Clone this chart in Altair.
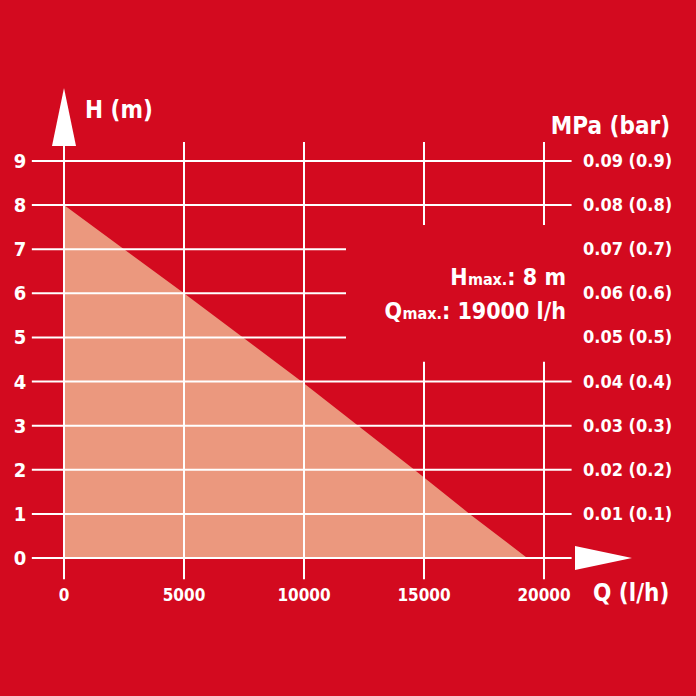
import altair as alt
import pandas as pd

# ---- data ----
q_ticks = [0, 5000, 10000, 15000, 20000]
h_ticks = [0, 1, 2, 3, 4, 5, 6, 7, 8, 9]
pressure_labels = ["0.01 (0.1)", "0.02 (0.2)", "0.03 (0.3)", "0.04 (0.4)", "0.05 (0.5)",
                   "0.06 (0.6)", "0.07 (0.7)", "0.08 (0.8)", "0.09 (0.9)"]
curve_q = [0, 5000, 9900, 14600, 16900, 19300]
curve_h = [8, 6, 4, 2, 1, 0]

RED = "#D30A1F"
SALMON = "#EB987E"
WHITE = "#FFFFFF"
FONT = "DejaVu Sans Condensed, sans-serif"

W = H = 696
xs = alt.Scale(domain=[-2666.667, 26333.333], nice=False, zero=False)
ys = alt.Scale(domain=[-3.1285, 12.65], nice=False, zero=False)

def X(f="q"):
    return alt.X(f"{f}:Q", scale=xs, axis=None)

def Y(f="h"):
    return alt.Y(f"{f}:Q", scale=ys, axis=None)

# area under curve
curve = pd.DataFrame({"q": curve_q, "h": curve_h})
area = alt.Chart(curve).mark_area(color=SALMON, opacity=1, interpolate="linear").encode(
    x=X(), y=Y(), y2=alt.datum(0)
)

# horizontal grid lines
GL, GR, GS = -1340, 21150, 11750
hrows = []
for h in h_ticks:
    hrows.append({"h": h, "q": GL, "q2": GS if h in (5, 6, 7) else GR})
hgrid = alt.Chart(pd.DataFrame(hrows)).mark_rule(color=WHITE, strokeWidth=2).encode(
    x=X(), x2="q2:Q", y=Y()
)

# vertical grid lines
BOT, TOP = -0.48, 9.43
vrows = [{"q": 0, "h": BOT, "h2": 9.4}]
for q in q_ticks[1:]:
    if q in (15000, 20000):
        vrows.append({"q": q, "h": BOT, "h2": 4.45})
        vrows.append({"q": q, "h": 7.55, "h2": TOP})
    else:
        vrows.append({"q": q, "h": BOT, "h2": TOP})
vgrid = alt.Chart(pd.DataFrame(vrows)).mark_rule(color=WHITE, strokeWidth=2).encode(
    x=X(), y=Y(), y2="h2:Q"
)

# arrows
up = alt.Chart(pd.DataFrame({"q": [0], "h": [10.0]})).mark_point(
    shape="M-0.4138,1L0,-1L0.4138,1Z", size=3364, filled=True, color=WHITE, opacity=1, strokeWidth=0
).encode(x=X(), y=Y())
right = alt.Chart(pd.DataFrame({"q": [22480], "h": [0]})).mark_point(
    shape="M-1,-0.421L1,0L-1,0.421Z", size=3249, filled=True, color=WHITE, opacity=1, strokeWidth=0
).encode(x=X(), y=Y())

txt = dict(color=WHITE, font=FONT, fontWeight="bold")

left_lbl = alt.Chart(pd.DataFrame({"h": h_ticks, "q": [0] * len(h_ticks),
                                   "t": [str(v) for v in h_ticks]})).mark_text(
    fontSize=20, align="center", baseline="middle", dx=-44, dy=1, **txt
).encode(x=X(), y=Y(), text="t:N")

bot_lbl = alt.Chart(pd.DataFrame({"q": q_ticks, "h": [0] * len(q_ticks),
                                  "t": [str(v) for v in q_ticks]})).mark_text(
    fontSize=17, align="center", baseline="middle", dy=38, **txt
).encode(x=X(), y=Y(), text="t:N")

right_lbl = alt.Chart(pd.DataFrame({"h": h_ticks[1:], "q": [20000] * 9,
                                    "t": pressure_labels})).mark_text(
    fontSize=18, align="left", baseline="middle", dx=39, dy=1, **txt
).encode(x=X(), y=Y(), text="t:N")

def label(text, q, h, size, align, dx, dy, baseline="alphabetic"):
    return alt.Chart(pd.DataFrame({"q": [q], "h": [h], "t": [text]})).mark_text(
        fontSize=size, align=align, baseline=baseline, dx=dx, dy=dy, **txt
    ).encode(x=X(), y=Y(), text="t:N")

# approximate advance widths (em) of DejaVu Sans Condensed Bold
ADV = {":": 0.36, " ": 0.313, "m": 0.938, "a": 0.608, "x": 0.597, ".": 0.342,
       "l": 0.309, "/": 0.329, "h": 0.641, "H": 0.753, "Q": 0.765}
def width(s, size):
    return sum(ADV.get(c, 0.626) for c in s) * size

BIG, SMALL = 23, 16
def max_line(letter, value, h, dy):
    # right edge of the block sits at q=15000 + 142 px
    r = 142
    w_val = width(value, BIG)
    w_max = width("max.", SMALL)
    return [
        label(value, 15000, h, BIG, "right", r, dy),
        label("max.", 15000, h, SMALL, "right", r - w_val, dy),
        label(letter, 15000, h, BIG, "right", r - w_val - w_max, dy),
    ]

titles = [
    label("H (m)", 0, 10, 24, "left", 21, 1),
    label("MPa (bar)", 20000, 9, 24, "right", 126, -27),
    label("Q (l/h)", 20000, 0, 24, "left", 49, 43),
    *max_line("H", ": 8 m", 6, -8),
    *max_line("Q", ": 19000 l/h", 5, -18),
]

chart = alt.layer(area, hgrid, vgrid, up, right, left_lbl, bot_lbl, right_lbl, *titles).properties(
    width=W, height=H, background=RED, padding=0, autosize="none"
).configure_view(strokeWidth=0)

chart.save("out.html", embed_options={"renderer": "svg", "actions": False})
